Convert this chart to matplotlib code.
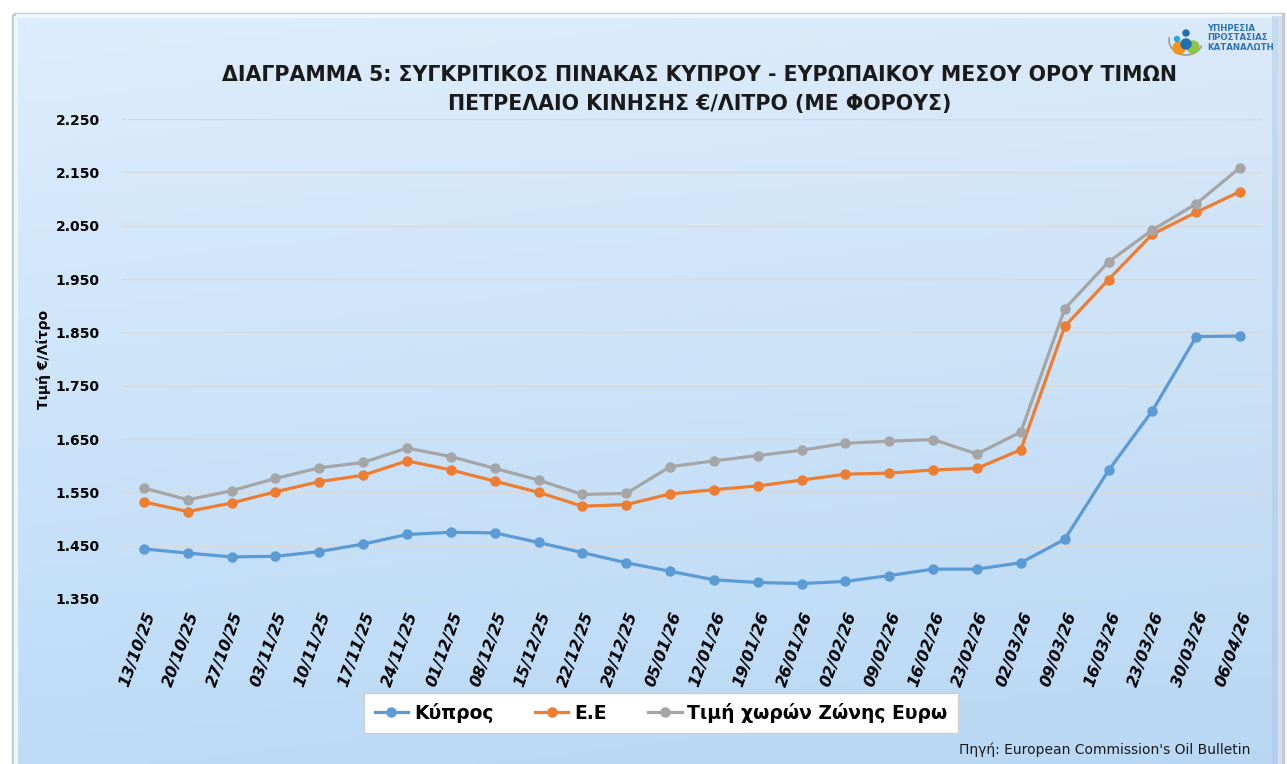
import numpy as np
import matplotlib.pyplot as plt
from matplotlib.patches import Rectangle, Circle, Arc

# datos
fechas = ['13/10/25', '20/10/25', '27/10/25', '03/11/25', '10/11/25', '17/11/25',
          '24/11/25', '01/12/25', '08/12/25', '15/12/25', '22/12/25', '29/12/25',
          '05/01/26', '12/01/26', '19/01/26', '26/01/26', '02/02/26', '09/02/26',
          '16/02/26', '23/02/26', '02/03/26', '09/03/26', '16/03/26', '23/03/26',
          '30/03/26', '06/04/26']
kypros = [1.444, 1.436, 1.429, 1.430, 1.439, 1.453, 1.471, 1.475, 1.474, 1.456,
          1.437, 1.418, 1.402, 1.386, 1.381, 1.379, 1.383, 1.394, 1.406, 1.406,
          1.418, 1.462, 1.591, 1.703, 1.842, 1.843]
ee = [1.532, 1.514, 1.530, 1.551, 1.570, 1.582, 1.609, 1.592, 1.571, 1.550,
      1.524, 1.527, 1.547, 1.555, 1.562, 1.573, 1.584, 1.586, 1.592, 1.595,
      1.630, 1.861, 1.949, 2.034, 2.075, 2.114]
zona_euro = [1.558, 1.536, 1.553, 1.576, 1.596, 1.606, 1.633, 1.617, 1.595, 1.573,
             1.546, 1.548, 1.598, 1.609, 1.619, 1.629, 1.642, 1.646, 1.649, 1.622,
             1.663, 1.894, 1.982, 2.042, 2.091, 2.159]
yticks = [1.350, 1.450, 1.550, 1.650, 1.750, 1.850, 1.950, 2.050, 2.150, 2.250]

W, H = 1287, 764
fig = plt.figure(figsize=(W / 100, H / 100), dpi=100)
fig.patch.set_facecolor('white')

'''Fondo (tarjeta con degradado)'''
bg = fig.add_axes([0, 0, 1, 1])
bg.set_xlim(0, W)
bg.set_ylim(H, 0)
bg.axis('off')
c_top = np.array([0.87, 0.93, 0.99])
c_bot = np.array([0.74, 0.86, 0.97])
t = np.linspace(0, 1, 200)[:, None, None]
s = np.linspace(0, 1, 200)[None, :, None]
grad = c_top * (1 - t) + c_bot * t - 0.015 * s
bg.imshow(np.clip(grad, 0, 1), extent=(15, 1282, 770, 15), aspect='auto', zorder=0)
bg.add_patch(Rectangle((13, 14), 1270, 760, fill=False, ec='#c9c9c9', lw=2.5, zorder=1))
bg.add_patch(Rectangle((16, 16), 1264, 760, fill=False, ec='#eef6fd', lw=3, zorder=1))
bg.add_patch(Rectangle((1272, 16), 10, 760, fc='#a9c7e3', ec='none', alpha=0.45, zorder=1))

# logo
bg.add_patch(Arc((1186, 40), 34, 30, theta1=20, theta2=190, color='#9a9a9a', lw=1.2))
bg.add_patch(Circle((1179, 48), 6, color='#f7941d'))
bg.add_patch(Circle((1193, 47), 6, color='#8dc63f'))
bg.add_patch(Circle((1186, 44), 5, color='#1f6fb5'))
bg.add_patch(Circle((1186, 33), 3, color='#1f6fb5'))
bg.add_patch(Circle((1177, 39), 2.5, color='#29a9e0'))
bg.text(1207, 38, 'ΥΠΗΡΕΣΙΑ\nΠΡΟΣΤΑΣΙΑΣ\nΚΑΤΑΝΑΛΩΤΗ', fontsize=6.2, color='#2e75b6',
        fontweight='bold', va='center', ha='left', linespacing=1.1)

bg.text(700, 75, 'ΔΙΑΓΡΑΜΜΑ 5: ΣΥΓΚΡΙΤΙΚΟΣ ΠΙΝΑΚΑΣ ΚΥΠΡΟΥ - ΕΥΡΩΠΑΙΚΟΥ ΜΕΣΟΥ ΟΡΟΥ ΤΙΜΩΝ',
        fontsize=14.8, fontweight='bold', ha='center', va='center', color='#1a1a1a')
bg.text(700, 104, 'ΠΕΤΡΕΛΑΙΟ ΚΙΝΗΣΗΣ €/ΛΙΤΡΟ (ΜΕ ΦΟΡΟΥΣ)',
        fontsize=14.8, fontweight='bold', ha='center', va='center', color='#1a1a1a')
bg.text(1250, 750, "Πηγή: European Commission's Oil Bulletin", fontsize=10,
        ha='right', va='center', color='#1a1a1a')

'''Gráfica'''
ax = fig.add_axes([122 / W, 1 - 599 / H, 1140 / W, 480 / H])
ax.patch.set_alpha(0)
x = np.arange(len(fechas))
ax.plot(x, kypros, color='#5b9bd5', lw=2.3, marker='o', ms=6.5, label='Κύπρος')
ax.plot(x, ee, color='#ed7d31', lw=2.3, marker='o', ms=6.5, label='Ε.Ε')
ax.plot(x, zona_euro, color='#a5a5a5', lw=2.3, marker='o', ms=6.5, label='Τιμή χωρών Ζώνης Ευρω')
ax.set_xlim(-0.5, len(fechas) - 0.5)
ax.set_ylim(1.350, 2.250)
ax.set_yticks(yticks)
ax.set_yticklabels([f'{v:.3f}' for v in yticks], fontsize=10, fontweight='bold')
ax.set_xticks(x)
ax.set_xticklabels(fechas, rotation=70, ha='right', rotation_mode='anchor',
                   fontsize=11.5, fontweight='bold', fontstyle='italic')
ax.tick_params(axis='y', length=0, pad=16)
ax.tick_params(axis='x', length=0, pad=8)
ax.grid(axis='y', color='#d9d9d9', lw=1)
ax.set_axisbelow(True)
for sp in ax.spines.values():
    sp.set_visible(False)
ax.set_ylabel('Τιμή €/Λίτρο', fontsize=10, fontweight='bold')
ax.yaxis.set_label_coords(-0.062, 0.5)

leg = ax.legend(loc='center', bbox_to_anchor=(661 / W, 1 - 713 / H), bbox_transform=fig.transFigure,
                ncol=3, fontsize=13.5, frameon=True, fancybox=False, handlelength=1.8,
                columnspacing=2.2, handletextpad=0.3, borderpad=0.55, borderaxespad=0)
for t_ in leg.get_texts():
    t_.set_fontweight('bold')
leg.get_frame().set_edgecolor('#d0d0d0')
leg.get_frame().set_facecolor('white')
leg.get_frame().set_alpha(1)

fig.savefig('out.png', dpi=100)
